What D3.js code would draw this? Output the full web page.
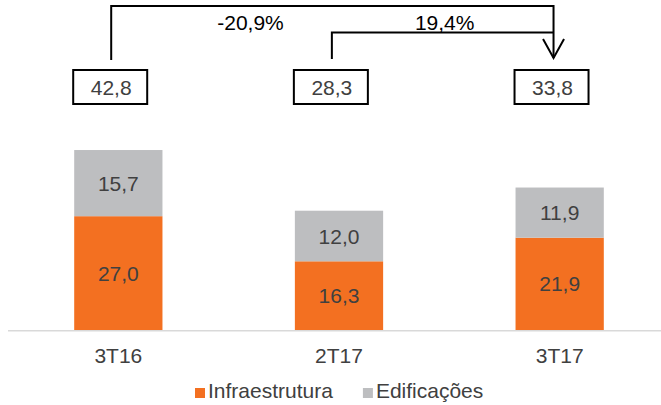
<!DOCTYPE html>
<html>
<head>
<meta charset="utf-8">
<script src="https://cdn.jsdelivr.net/npm/d3@7"></script>
<style>
  html, body { margin: 0; padding: 0; background: #fff; }
  svg { display: block; font-family: "Liberation Sans", Arial, sans-serif; }
</style>
</head>
<body>
<svg id="chart" width="661" height="405"></svg>
<script>
// Receita líquida por segmento (R$ milhões)
const categories = ["3T16", "2T17", "3T17"];
const infraestrutura = [27.0, 16.3, 21.9];
const edificacoes = [15.7, 12.0, 11.9];
const totals = [42.8, 28.3, 33.8];
const changes = ["-20,9%", "19,4%"];
const seriesNames = ["Infraestrutura", "Edificações"];
const seriesColors = ["#F37021", "#BDBEC0"];

const svg = d3.select("#chart");
const textColor = "#404040";
const fontSize = 21;

const ptBR = d3.formatLocale({ decimal: ",", thousands: ".", grouping: [3], currency: ["R$", ""] });
const fmt = ptBR.format(".1f");

const x = d3.scaleBand()
  .domain(categories)
  .range([8, 670])
  .paddingInner(0.6)
  .paddingOuter(0.3);

const baseY = 330;
const y = d3.scaleLinear().domain([0, 45]).range([baseY, baseY - 45 * 4.215]);

// stacked data
const rows = categories.map((c, i) => ({ cat: c, Infraestrutura: infraestrutura[i], "Edificações": edificacoes[i] }));
const stack = d3.stack().keys(seriesNames)(rows);

const layers = svg.append("g").selectAll("g")
  .data(stack)
  .join("g")
  .attr("fill", (d, i) => seriesColors[i]);

layers.selectAll("rect")
  .data(d => d)
  .join("rect")
  .attr("x", d => x(d.data.cat))
  .attr("width", x.bandwidth())
  .attr("y", d => y(d[1]))
  .attr("height", d => y(d[0]) - y(d[1]));

// segment labels
layers.selectAll("text")
  .data(d => d.map(v => ({ v, key: d.key })))
  .join("text")
  .attr("x", d => x(d.v.data.cat) + x.bandwidth() / 2)
  .attr("y", d => (y(d.v[0]) + y(d.v[1])) / 2)
  .attr("dy", "0.36em")
  .attr("text-anchor", "middle")
  .attr("fill", textColor)
  .attr("font-size", fontSize)
  .text(d => fmt(d.v.data[d.key]));

// baseline axis
svg.append("line")
  .attr("x1", 8).attr("x2", 661)
  .attr("y1", baseY + 0.75).attr("y2", baseY + 0.75)
  .attr("stroke", "#D9D9D9")
  .attr("stroke-width", 1.5);

// category axis labels
const xAxis = d3.axisBottom(x).tickSize(0).tickPadding(0);
const gx = svg.append("g").attr("transform", `translate(0,${baseY})`).call(xAxis);
gx.select(".domain").remove();
gx.selectAll("text")
  .attr("y", 33)
  .attr("dy", 0)
  .attr("fill", textColor)
  .attr("font-size", fontSize)
  .attr("font-family", "Liberation Sans, Arial, sans-serif");

// total boxes
const boxW = 74, boxH = 34, boxY = 70;
const boxCx = c => x(c) - 1 + boxW / 2;
const boxes = svg.append("g").selectAll("g")
  .data(categories)
  .join("g");
boxes.append("rect")
  .attr("x", c => x(c) - 1)
  .attr("y", boxY)
  .attr("width", boxW)
  .attr("height", boxH)
  .attr("fill", "#fff")
  .attr("stroke", "#000")
  .attr("stroke-width", 2);
boxes.append("text")
  .attr("x", c => boxCx(c) + 1)
  .attr("y", boxY + boxH / 2)
  .attr("dy", "0.36em")
  .attr("text-anchor", "middle")
  .attr("fill", textColor)
  .attr("font-size", fontSize)
  .text((c, i) => fmt(totals[i]));

// variation connectors
const xa = boxCx(categories[0]) + 1;
const xb = boxCx(categories[1]) + 1;
const xc = boxCx(categories[2]) + 2;
const connectors = svg.append("g")
  .attr("fill", "none")
  .attr("stroke", "#000")
  .attr("stroke-width", 2);
connectors.append("path")
  .attr("d", `M${xa},60 V6 H${xc} V58`);
connectors.append("path")
  .attr("d", `M${xb},59 V32.5 H${xc}`);
connectors.append("path")
  .attr("d", `M${xc - 10.5},39 L${xc},58 L${xc + 10.5},39`);

svg.append("text")
  .attr("x", (xa + xb) / 2 + 29)
  .attr("y", 30)
  .attr("text-anchor", "middle")
  .attr("fill", "#000")
  .attr("font-size", fontSize)
  .text(changes[0]);
svg.append("text")
  .attr("x", (xb + xc) / 2 + 2)
  .attr("y", 30)
  .attr("text-anchor", "middle")
  .attr("fill", "#000")
  .attr("font-size", fontSize)
  .text(changes[1]);

// legend
const legend = svg.append("g").attr("transform", "translate(195,388)");
let lx = 0;
seriesNames.forEach((name, i) => {
  legend.append("rect")
    .attr("x", lx).attr("y", 0)
    .attr("width", 10).attr("height", 10)
    .attr("fill", seriesColors[i]);
  const t = legend.append("text")
    .attr("x", lx + 13)
    .attr("y", 10)
    .attr("fill", textColor)
    .attr("font-size", fontSize)
    .text(name);
  lx += 13 + t.node().getComputedTextLength() + 30;
});
</script>
</body>
</html>
